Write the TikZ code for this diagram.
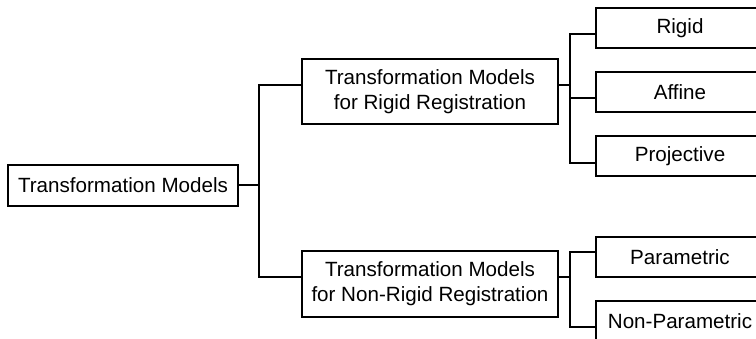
\documentclass[tikz,border=0pt]{standalone}
\usepackage{fontspec}
\setmainfont{Liberation Sans}
\usepackage{tikz}

\begin{document}
\begin{tikzpicture}[x=1pt, y=-1pt, line width=2pt,
  model/.style={shape=rectangle, draw, align=center, inner sep=0pt,
    font=\fontsize{20.6}{25}\selectfont},
  leaf/.style={model, minimum width=168pt, minimum height=40pt}]
\useasboundingbox (0,0) rectangle (756,339);

\node [model, minimum width=230pt, minimum height=41pt] (T0) at (123,185.5) {Transformation Models};
\node [model, minimum width=256pt, minimum height=65pt] (R0) at (430,91.5) {Transformation Models\\for Rigid Registration};
\node [model, minimum width=256pt, minimum height=66pt] (N0) at (430,284) {Transformation Models\\for Non-Rigid Registration};
\node [leaf] (R1) at (680,28) {Rigid};
\node [leaf] (R2) at (680,92.5) {Affine};
\node [leaf] (R3) at (680,156.5) {Projective};
\node [leaf] (N1) at (680,257.5) {Parametric};
\node [leaf] (N2) at (680,321.5) {Non-Parametric};

% the two junction columns
\coordinate (C1) at (259,0);
\coordinate (C2) at (570,0);

\draw (T0.east) -- (T0.east -| C1);
\draw ([yshift=6.5pt]R0.west) -| ([yshift=7pt]N0.west -| C1) -- ([yshift=7pt]N0.west);

\draw ([yshift=6.5pt]R0.east) -- ([yshift=6.5pt]R0.east -| C2);
\draw ([yshift=-6pt]R1.west) -| ([yshift=-6.5pt]R3.west -| C2) -- ([yshift=-6.5pt]R3.west);
\draw ([yshift=-5.5pt]R2.west) -- ([yshift=-5.5pt]R2.west -| C2);

\draw ([yshift=7pt]N0.east) -- ([yshift=7pt]N0.east -| C2);
\draw ([yshift=5.5pt]N1.west) -| ([yshift=-5.5pt]N2.west -| C2) -- ([yshift=-5.5pt]N2.west);
\end{tikzpicture}
\end{document}
